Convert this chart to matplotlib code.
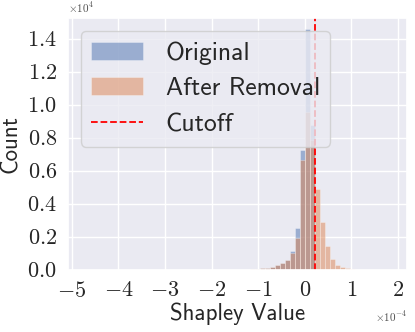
import numpy as np
import matplotlib
matplotlib.use("Agg")
import matplotlib.pyplot as plt
import seaborn as sns

sns.set_theme(style="darkgrid")
plt.rcParams["font.family"] = ["cmss10", "DejaVu Sans"]
plt.rcParams["mathtext.fontset"] = "cm"
plt.rcParams["axes.unicode_minus"] = False

# histogram bins (Shapley value, x1e-4)
bin_start = -1.28
bin_width = 0.1075
# counts per bin (x1e4)
original = [0.0, 0.003, 0.007, 0.011, 0.0135, 0.0195, 0.0275, 0.0415, 0.062,
            0.1125, 0.252, 0.726, 1.462, 0.878, 0.0, 0.0, 0.0, 0.0, 0.0, 0.0, 0.0, 0.0]
after_removal = [0.0, 0.003, 0.007, 0.011, 0.0135, 0.0195, 0.0275, 0.0415, 0.062,
                 0.100, 0.1915, 0.665, 0.9575, 0.787, 0.489, 0.289, 0.143, 0.064,
                 0.0275, 0.015, 0.009, 0.003]
cutoff = 0.226

edges = bin_start + bin_width * np.arange(len(original) + 1)
centers = (edges[:-1] + edges[1:]) / 2

fig = plt.figure(figsize=(4.15, 3.32), dpi=100)
ax = fig.add_axes([0.164, 0.187, 0.817, 0.759])

ax.hist(centers, bins=edges, weights=original, color="#4C72B0", alpha=0.5,
        edgecolor="white", linewidth=0.4, label="Original")
ax.hist(centers, bins=edges, weights=after_removal, color="#DD8452", alpha=0.5,
        edgecolor="white", linewidth=0.4, label="After Removal")
ax.axvline(cutoff, color="red", linestyle="--", linewidth=1.3, label="Cutoff")

ax.set_xlim(-5.08, 2.2)
ax.set_ylim(0, 1.527)
ax.set_xticks(range(-5, 3))
ax.set_yticks(np.arange(0, 1.41, 0.2))
ax.xaxis.set_major_formatter(plt.FuncFormatter(lambda v, p: r"$%d$" % round(v)))
ax.yaxis.set_major_formatter(plt.FuncFormatter(lambda v, p: r"$%.1f$" % v))
ax.tick_params(labelsize=16, pad=2)

ax.set_xlabel("Shapley Value", fontsize=16.5, labelpad=1)
ax.set_ylabel("Count", fontsize=16.5, labelpad=4)

ax.text(0.0, 1.01, r"$\times10^{4}$", transform=ax.transAxes, fontsize=8,
        ha="left", va="bottom", color="0.3")
ax.text(1.0, -0.155, r"$\times10^{-4}$", transform=ax.transAxes, fontsize=8,
        ha="right", va="top", color="0.3")

ax.legend(loc="upper left", fontsize=18.5, handlelength=2.0, borderaxespad=0.5,
          labelspacing=0.5, handletextpad=0.9)

fig.savefig("out.png", dpi=100)
